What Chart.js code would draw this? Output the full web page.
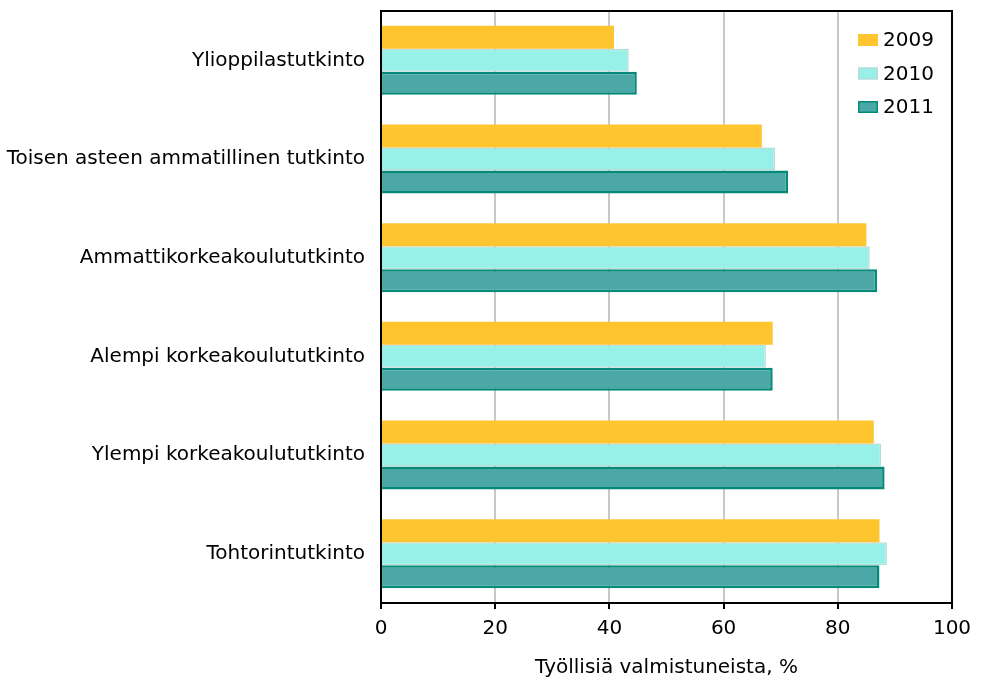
<!DOCTYPE html>
<html>
<head>
<meta charset="utf-8">
<script src="https://cdn.jsdelivr.net/npm/chart.js@4.4.0/dist/chart.umd.min.js"></script>
<style>
  html, body { margin: 0; padding: 0; background: #fff; }
  #wrap { width: 982px; height: 688px; }
</style>
</head>
<body>
<div id="wrap"><canvas id="jobsChart" width="982" height="688"></canvas></div>
<script>
// Data
const categories = [
    'Ylioppilastutkinto',
    'Toisen asteen ammatillinen tutkinto',
    'Ammattikorkeakoulututkinto',
    'Alempi korkeakoulututkinto',
    'Ylempi korkeakoulututkinto',
    'Tohtorintutkinto'
];
const years = ['2009', '2010', '2011'];
const values2009 = [40.8, 66.7, 85.0, 68.6, 86.3, 87.3];
const values2010 = [43.4, 69.0, 85.6, 67.4, 87.6, 88.6];
const values2011 = [44.8, 71.3, 86.9, 68.6, 88.2, 87.3];
const xTicks = [0, 20, 40, 60, 80, 100];
const xTitle = 'Työllisiä valmistuneista, %';

const FONT = '"DejaVu Sans", sans-serif';

// legend drawn inside the plot, top right, plus black frame round the plot
const framePlugin = {
    id: 'frameAndLegend',
    afterDatasetsDraw(chart) {
        const { ctx, chartArea } = chart;
        ctx.save();
        ctx.strokeStyle = '#000';
        ctx.lineWidth = 2;
        ctx.beginPath();
        ctx.moveTo(chartArea.left, chartArea.top);
        ctx.lineTo(chartArea.right, chartArea.top);
        ctx.lineTo(chartArea.right, chartArea.bottom);
        ctx.stroke();

        ctx.font = '20px ' + FONT;
        ctx.textBaseline = 'middle';
        ctx.textAlign = 'left';
        chart.data.datasets.forEach((ds, i) => {
            const x = chartArea.right - 94;
            const y = chartArea.top + 29 + i * 33.5;
            ctx.fillStyle = ds.backgroundColor;
            ctx.fillRect(x, y - 6, 20, 12);
            if (ds.borderWidth) {
                ctx.strokeStyle = ds.borderColor;
                ctx.lineWidth = 1.5;
                ctx.strokeRect(x + 0.75, y - 5.25, 18.5, 10.5);
            }
            ctx.fillStyle = '#000';
            ctx.fillText(ds.label, x + 25, y + 1);
        });
        ctx.restore();
    }
};

const ctx = document.getElementById('jobsChart').getContext('2d');

const jobsChart = new Chart(ctx, {
    type: 'bar',
    data: {
        labels: categories,
        datasets: [{
            label: years[0],
            data: values2009,
            backgroundColor: '#FFC52E',
            borderColor: '#FFD76A',
            borderWidth: 0
        }, {
            label: years[1],
            data: values2010,
            backgroundColor: '#98F1E8',
            borderColor: '#B4DCD8',
            borderWidth: 1.5
        }, {
            label: years[2],
            data: values2011,
            backgroundColor: '#4BA8A6',
            borderColor: '#058A7A',
            borderWidth: 2.5
        }]
    },
    options: {
        indexAxis: 'y',
        responsive: false,
        animation: false,
        layout: { padding: { top: 11, right: 30, left: 0, bottom: 0 } },
        datasets: {
            bar: { categoryPercentage: 0.7, barPercentage: 1.0 }
        },
        plugins: {
            legend: { display: false },
            tooltip: { enabled: false }
        },
        scales: {
            x: {
                min: 0,
                max: 100,
                afterBuildTicks: (scale) => {
                    scale.ticks = xTicks.map(v => ({ value: v }));
                },
                afterFit: (scale) => { scale.height = 85; },
                grid: {
                    color: (c) => (c.tick && (c.tick.value === 0 || c.tick.value === 100)) ? 'rgba(0,0,0,0)' : '#C8C8C8',
                    lineWidth: 2,
                    tickColor: '#000',
                    tickLength: 6,
                    tickWidth: 2
                },
                border: { color: '#000', width: 2 },
                ticks: {
                    color: '#000',
                    padding: 8,
                    font: { family: FONT, size: 20 },
                    maxRotation: 0
                },
                title: {
                    display: true,
                    text: xTitle,
                    color: '#000',
                    font: { family: FONT, size: 20 },
                    padding: { top: 4, bottom: 8 }
                }
            },
            y: {
                afterFit: (scale) => {
                    scale.width = 381;
                    scale.paddingTop = 0;
                    scale.paddingBottom = 0;
                },
                grid: { display: false, drawTicks: false },
                border: { color: '#000', width: 2 },
                ticks: {
                    color: '#000',
                    padding: 16,
                    font: { family: FONT, size: 20 }
                }
            }
        }
    },
    plugins: [framePlugin]
});
</script>
</body>
</html>
